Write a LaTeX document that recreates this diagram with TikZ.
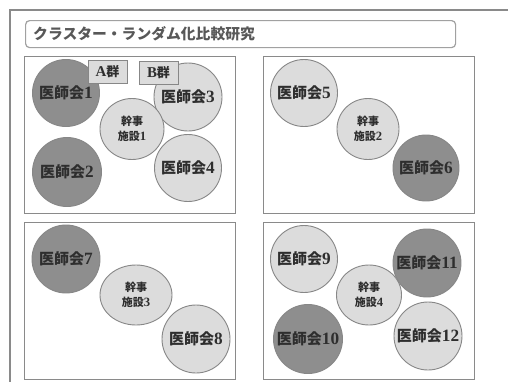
\documentclass[tikz,border=0pt]{standalone}
\usepackage{fontspec}
\setmainfont{Noto Sans CJK JP}
\newfontfamily\serf[Scale=1.15]{Liberation Serif}
\usetikzlibrary{shapes.geometric}
\definecolor{dk}{HTML}{8E8E8E}
\definecolor{lt}{HTML}{DCDCDC}
\definecolor{ln}{HTML}{878787}
\definecolor{tx}{HTML}{2E2E2E}
\definecolor{frm}{HTML}{8A8A8A}
\newcommand\dg[1]{{\serf\bfseries #1}}
\begin{document}
\begin{tikzpicture}[x=1pt,y=-1pt,
  base/.style={draw=ln, line width=0.9pt, inner sep=0pt, text=tx},
  dkc/.style={base, circle, fill=dk, minimum size=#1, font=\fontsize{15}{15}\selectfont\bfseries},
  ltc/.style={base, circle, fill=lt, minimum size=#1, font=\fontsize{15}{15}\selectfont\bfseries},
  hub/.style={base, ellipse, fill=lt, align=center, font=\fontsize{11}{15}\selectfont\bfseries},
  panel/.style={draw=frm, line width=1.3pt, fill=white, minimum width=211pt, minimum height=157pt, anchor=north west, inner sep=0pt},
  grp/.style={draw=ln, line width=0.9pt, fill=lt, minimum width=39pt, minimum height=23pt, inner sep=0pt, text=tx, font=\fontsize{13}{13}\selectfont\bfseries}
]
\useasboundingbox (0,0) rectangle (508,381);
\fill[white] (0,0) rectangle (508,381);
% outer frame
\coordinate (fbl) at (10,382);
\coordinate (ftr) at (509,10);
\draw[frm, line width=1.1pt] (fbl) |- (ftr);
% title
\node[draw=frm!80, line width=1.2pt, rounded corners=4pt, minimum width=430pt, minimum height=27pt,
  anchor=north west, inner sep=0pt] (title) at (25,20) {};
\node[anchor=west, text=tx!80, font=\fontsize{14.8}{15}\selectfont\bfseries, inner sep=0pt]
  (ttext) at ([xshift=8pt]title.west) {クラスター・ランダム化比較研究};
% panels
\node[panel] (p1) at (24,56) {};
\node[panel] (p2) at (263,56) {};
\node[panel] (p3) at (24,222) {};
\node[panel] (p4) at (263,222) {};
% panel 1
\node[dkc=67pt] (m1) at (66,93) {医師会\dg{1}};
\node[dkc=69pt] (m2) at (67,172) {医師会\dg{2}};
\node[ltc=68pt] (m3) at (188,97) {医師会\dg{3}};
\node[ltc=67pt] (m4) at (188,168) {医師会\dg{4}};
\node[hub, minimum width=64pt, minimum height=61pt] (h1) at (132,129) {幹事\\施設\dg{1}};
\node[grp] (ga) at (107.5,71.5) {\dg{A}群};
\node[grp] (gb) at (158.5,72.5) {\dg{B}群};
% panel 2
\node[ltc=67pt] (m5) at (304,93) {医師会\dg{5}};
\node[dkc=66pt] (m6) at (426,168) {医師会\dg{6}};
\node[hub, minimum width=62pt, minimum height=61pt] (h2) at (368,129) {幹事\\施設\dg{2}};
% panel 3
\node[dkc=68pt] (m7) at (66,259) {医師会\dg{7}};
\node[ltc=68pt] (m8) at (196,339) {医師会\dg{8}};
\node[hub, minimum width=72pt, minimum height=60pt] (h3) at (136,295) {幹事\\施設\dg{3}};
% panel 4
\node[ltc=67pt] (m9) at (304,259) {医師会\dg{9}};
\node[dkc=68pt] (m11) at (427,263) {医師会\dg{11}};
\node[dkc=69pt] (m10) at (308,339) {医師会\dg{10}};
\node[ltc=68pt] (m12) at (428,336) {医師会\dg{12}};
\node[hub, minimum width=65pt, minimum height=60pt] (h4) at (369,295) {幹事\\施設\dg{4}};
\end{tikzpicture}
\end{document}
